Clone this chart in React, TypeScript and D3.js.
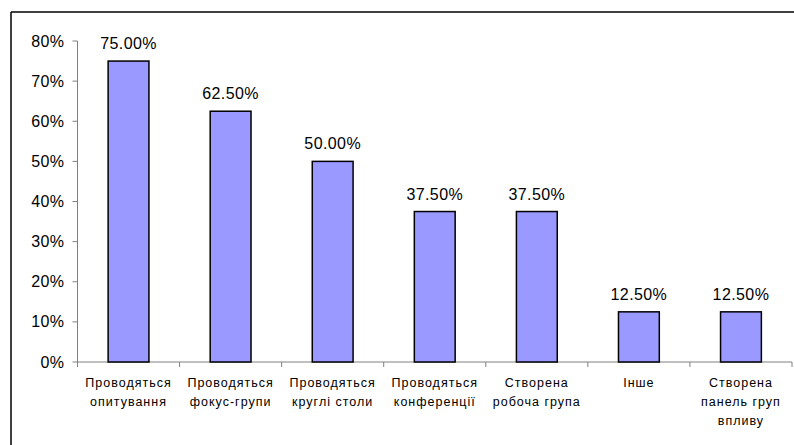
import React from "react";
import * as d3 from "d3";

const categories: string[][] = [
  ["Проводяться", "опитування"],
  ["Проводяться", "фокус-групи"],
  ["Проводяться", "круглі столи"],
  ["Проводяться", "конференції"],
  ["Створена", "робоча група"],
  ["Інше"],
  ["Створена", "панель груп", "впливу"],
];
const values: number[] = [75.0, 62.5, 50.0, 37.5, 37.5, 12.5, 12.5];
const yTicks: number[] = [0, 10, 20, 30, 40, 50, 60, 70, 80];

const W = 794;
const H = 445;
const plot = { left: 77.5, right: 792, top: 41, bottom: 362 };
const FONT = "'Liberation Sans', Arial, sans-serif";

export default function App() {
  const x = d3
    .scaleBand<number>()
    .domain(d3.range(values.length))
    .range([plot.left, plot.right])
    .padding(0);
  const y = d3.scaleLinear().domain([0, 80]).range([plot.bottom, plot.top]);
  const barW = x.bandwidth() * 0.4;

  return (
    <svg
      width={W}
      height={H}
      style={{ position: "absolute", left: 0, top: 0, background: "#fff" }}
      fontFamily={FONT}
    >
      {/* chart frame */}
      <line x1={11} x2={W} y1={12} y2={12} stroke="#000" strokeWidth={1.5} />
      <line x1={11} x2={11} y1={12} y2={H} stroke="#000" strokeWidth={1.5} />

      {/* y axis */}
      <line x1={plot.left} x2={plot.left} y1={plot.top} y2={plot.bottom} stroke="#808080" strokeWidth={1} />
      {yTicks.map((t) => (
        <g key={t}>
          <line x1={plot.left - 5} x2={plot.left} y1={y(t)} y2={y(t)} stroke="#808080" />
          <text x={plot.left - 13} y={y(t)} dy="0.35em" textAnchor="end" fontSize={16} letterSpacing={0.4} fill="#000">
            {t}%
          </text>
        </g>
      ))}

      {/* x axis */}
      <line x1={plot.left} x2={plot.right} y1={plot.bottom} y2={plot.bottom} stroke="#808080" />
      {d3.range(values.length + 1).map((i) => {
        const xx = i < values.length ? (x(i) as number) : plot.right;
        return <line key={i} x1={xx} x2={xx} y1={plot.bottom} y2={plot.bottom + 5} stroke="#808080" />;
      })}

      {/* bars and value labels */}
      {values.map((v, i) => {
        const cx = (x(i) as number) + x.bandwidth() / 2;
        return (
          <g key={i}>
            <rect
              x={cx - barW / 2}
              y={y(v)}
              width={barW}
              height={plot.bottom - y(v)}
              fill="#9999FF"
              stroke="#000"
              strokeWidth={1.5}
            />
            <text x={cx} y={y(v) - 12} textAnchor="middle" fontSize={16} letterSpacing={0.4} fill="#000">
              {v.toFixed(2)}%
            </text>
          </g>
        );
      })}

      {/* category labels */}
      {categories.map((lines, i) => {
        const cx = (x(i) as number) + x.bandwidth() / 2;
        return (
          <text key={i} x={cx} textAnchor="middle" fontSize={12.5} fill="#000" letterSpacing={1}>
            {lines.map((l, j) => (
              <tspan key={j} x={cx} y={387 + j * 19}>
                {l}
              </tspan>
            ))}
          </text>
        );
      })}
    </svg>
  );
}
